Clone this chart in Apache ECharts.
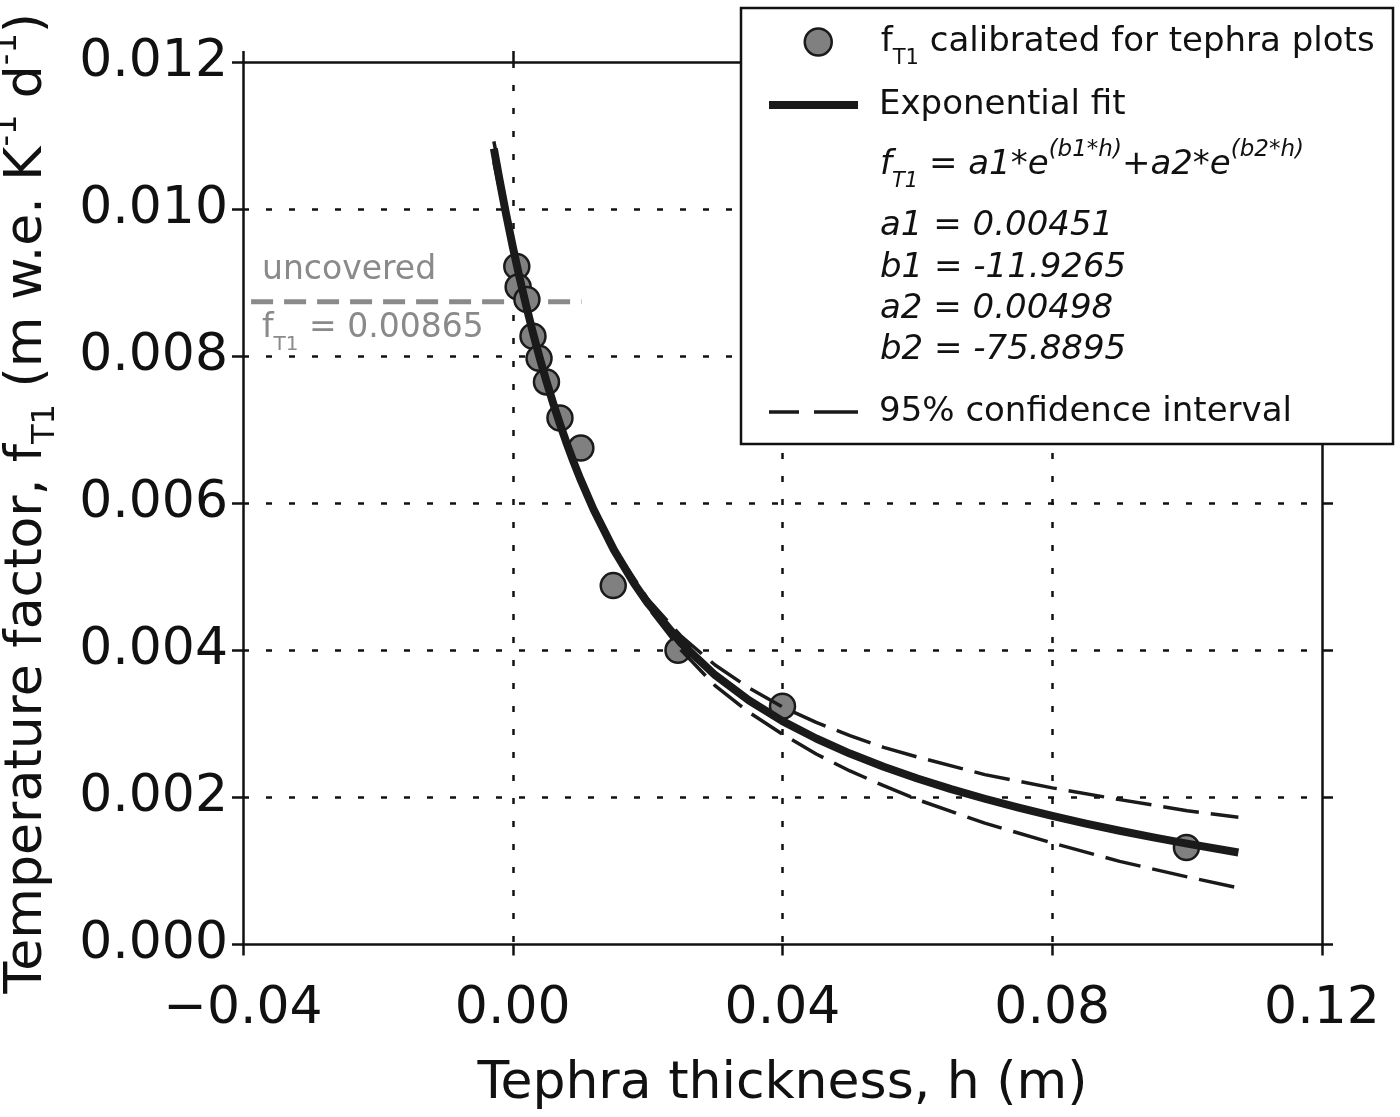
<!DOCTYPE html>
<html>
<head>
<meta charset="utf-8">
<script src="https://cdn.jsdelivr.net/npm/echarts@6/dist/echarts.min.js"></script>
<style>
html,body{margin:0;padding:0;background:#fff;}
#chart{width:1400px;height:1117px;}
</style>
</head>
<body>
<div id="chart"></div>
<script>
// ---- data ----
const pointsH = [0.0006, 0.0008, 0.0021, 0.0030, 0.0039, 0.0050, 0.0070, 0.0101, 0.0149, 0.0245, 0.0400, 0.0999];
const pointsF = [0.00922, 0.00894, 0.00877, 0.00827, 0.00797, 0.00765, 0.00716, 0.00675, 0.00488, 0.00400, 0.00324, 0.00132];

const fitH = [-0.0028, -0.002, -0.001, 0, 0.001, 0.002, 0.003, 0.004, 0.005, 0.006, 0.007, 0.008, 0.009, 0.010, 0.012, 0.015, 0.018, 0.020, 0.025, 0.030, 0.035, 0.040, 0.045, 0.050, 0.055, 0.060, 0.065, 0.070, 0.075, 0.080, 0.085, 0.090, 0.095, 0.100, 0.1076];
const fitF = [0.010822, 0.010415, 0.009937, 0.00949, 0.009073, 0.008683, 0.008317, 0.007976, 0.007656, 0.007357, 0.007077, 0.006814, 0.006566, 0.006335, 0.005912, 0.005366, 0.004909, 0.004645, 0.004094, 0.003664, 0.003321, 0.003038, 0.002801, 0.002596, 0.002417, 0.002257, 0.002113, 0.001982, 0.001861, 0.001749, 0.001644, 0.001547, 0.001456, 0.001371, 0.001251];

const ciH     = [-0.0028, 0, 0.001, 0.002, 0.005, 0.0075, 0.010, 0.015, 0.020, 0.025, 0.030, 0.035, 0.040, 0.045, 0.050, 0.055, 0.060, 0.070, 0.080, 0.090, 0.100, 0.1076];
const ciUpper = [0.01092, 0.00957, 0.00913, 0.00874, 0.00769, 0.00697, 0.00636, 0.00539, 0.00470, 0.00419, 0.00380, 0.00349, 0.00323, 0.00302, 0.00284, 0.00268, 0.00255, 0.00231, 0.00213, 0.00197, 0.00182, 0.00173];
const ciLower = [0.01064, 0.00941, 0.00901, 0.00863, 0.00762, 0.00692, 0.00631, 0.00534, 0.00459, 0.00400, 0.00352, 0.00316, 0.00286, 0.00259, 0.00236, 0.00216, 0.00197, 0.00165, 0.00138, 0.00113, 0.00092, 0.00077];

const uncoveredH = [-0.0388, 0.0102];
const uncoveredF = [0.00874, 0.00874];

const xTickValues = [-0.04, 0.00, 0.04, 0.08, 0.12];
const xTickLabels = ['\u22120.04', '0.00', '0.04', '0.08', '0.12'];
const yTickValues = [0.000, 0.002, 0.004, 0.006, 0.008, 0.010, 0.012];
const yTickLabels = ['0.000', '0.002', '0.004', '0.006', '0.008', '0.010', '0.012'];

const paramLines = ['a1 = 0.00451', 'b1 = -11.9265', 'a2 = 0.00498', 'b2 = -75.8895'];

const S_POINTS = 'f_T1 calibrated for tephra plots';
const S_FIT = 'Exponential fit';
const S_CI = '95% confidence interval';

// ---- helpers ----
const zip = (a, b) => a.map((v, i) => [v, b[i]]);
const pickLabel = (vals, labels) => v => {
  const i = vals.findIndex(t => Math.abs(t - v) < 1e-9);
  return i >= 0 ? labels[i] : '';
};

const FONT = 'DejaVu Sans';
const INK = '#111111';
const LINE = '#1a1a1a';
const GREY = '#8a8a8a';

const chart = echarts.init(document.getElementById('chart'), null, {renderer: 'canvas'});

const spine = {show: true, onZero: false, lineStyle: {color: INK, width: 2.5}};
const ticks = {show: true, inside: false, length: 11, lineStyle: {color: INK, width: 2.5}};
const dotted = {show: true, showMinLine: false, showMaxLine: false,
  lineStyle: {color: INK, width: 2.5, type: [6, 17]}};

const option = {
  animation: false,
  backgroundColor: '#ffffff',
  textStyle: {fontFamily: FONT},
  grid: {left: 243, right: 78, top: 62, bottom: 172.5, containLabel: false, outerBoundsMode: 'none'},
  xAxis: [{
    type: 'value', position: 'bottom', min: -0.04, max: 0.12, interval: 0.04,
    axisLine: spine, axisTick: ticks, splitLine: dotted,
    axisLabel: {fontSize: 52, lineHeight: 52, color: INK, fontFamily: FONT, margin: 39,
      formatter: pickLabel(xTickValues, xTickLabels)},
    name: 'Tephra thickness, h (m)', nameLocation: 'middle', nameGap: 109.5, nameMoveOverlap: false,
    nameTextStyle: {fontSize: 52, lineHeight: 60, color: INK, fontFamily: FONT}
  }, {
    type: 'value', position: 'top', min: -0.04, max: 0.12, interval: 0.04,
    axisLine: spine, axisTick: ticks, splitLine: {show: false}, axisLabel: {show: false}
  }],
  yAxis: [{
    type: 'value', position: 'left', min: 0, max: 0.012, interval: 0.002,
    axisLine: spine, axisTick: ticks, splitLine: dotted,
    axisLabel: {fontSize: 52, color: INK, fontFamily: FONT, margin: 15,
      formatter: pickLabel(yTickValues, yTickLabels)},
    name: '{m|Temperature factor, f}{s|T1}{m| (m w.e. K}{p|-1}{m| d}{p|-1}{m|)}',
    nameLocation: 'middle', nameGap: 181, nameMoveOverlap: false,
    nameTextStyle: {color: INK, fontFamily: FONT, fontSize: 52, rich: {
      m: {fontSize: 52, lineHeight: 70, verticalAlign: 'middle', color: INK, fontFamily: FONT},
      s: {fontSize: 32, lineHeight: 34, verticalAlign: 'bottom', color: INK, fontFamily: FONT},
      p: {fontSize: 32, lineHeight: 48, verticalAlign: 'top', color: INK, fontFamily: FONT}
    }}
  }, {
    type: 'value', position: 'right', min: 0, max: 0.012, interval: 0.002,
    axisLine: spine, axisTick: ticks, splitLine: {show: false}, axisLabel: {show: false}
  }],
  legend: [{
    z: 6, padding: 0, left: 803.5, top: 15, itemWidth: 27, itemHeight: 27, orient: 'vertical',
    data: [{name: S_POINTS, icon: 'circle'}],
    itemStyle: {color: '#808080', borderColor: LINE, borderWidth: 2.5},
    formatter: () => '{m|f}{s|T1}{m| calibrated for tephra plots}',
    textStyle: {color: INK, fontFamily: FONT, fontSize: 34, lineHeight: 54, padding: [0, 0, 0, 44], rich: {
      m: {fontSize: 34, lineHeight: 54, verticalAlign: 'middle', color: INK, fontFamily: FONT},
      s: {fontSize: 21, lineHeight: 21, verticalAlign: 'bottom', color: INK, fontFamily: FONT}
    }}
  }, {
    z: 6, padding: 0, left: 769, top: 78, itemWidth: 89, itemHeight: 8, orient: 'vertical',
    data: [{name: S_FIT, icon: 'rect'}],
    itemStyle: {color: LINE, borderWidth: 0},
    textStyle: {color: INK, fontFamily: FONT, fontSize: 34, lineHeight: 54, padding: [0, 0, 0, 16]}
  }, {
    z: 6, padding: 0, left: 769, top: 385, itemWidth: 89, itemHeight: 3.5, orient: 'vertical',
    data: [{name: S_CI, icon: 'path://M0,0H30V3.5H0Z M45,0H89V3.5H45Z'}],
    itemStyle: {color: LINE, borderWidth: 0},
    textStyle: {color: INK, fontFamily: FONT, fontSize: 34, lineHeight: 54, padding: [0, 0, 0, 16]}
  }],
  graphic: [{
    type: 'rect', z: 5, shape: {x: 741, y: 8, width: 652, height: 436},
    style: {fill: '#ffffff', stroke: INK, lineWidth: 2.5}
  }, {
    type: 'text', z: 7, x: 880, y: 138.2,
    style: {
      text: '{m|f}{s|T1}{m| = a1*e}{p|(b1*h)}{m|+a2*e}{p|(b2*h)}',
      align: 'left', verticalAlign: 'top', fill: INK, font: 'italic 34px "DejaVu Sans"',
      rich: {
        m: {fontSize: 34, fontStyle: 'italic', fontFamily: FONT, lineHeight: 54, verticalAlign: 'middle', fill: INK},
        s: {fontSize: 21, fontStyle: 'italic', fontFamily: FONT, lineHeight: 23, verticalAlign: 'bottom', fill: INK},
        p: {fontSize: 23, fontStyle: 'italic', fontFamily: FONT, lineHeight: 38, verticalAlign: 'top', fill: INK}
      }
    }
  }, {
    type: 'text', z: 7, x: 880, y: 205.9,
    style: {
      text: paramLines.join('\n'), align: 'left', verticalAlign: 'top', fill: INK,
      fontSize: 34, fontStyle: 'italic', fontFamily: FONT, lineHeight: 41.2
    }
  }, {
    type: 'text', z: 7, x: 262, y: 270.6,
    style: {text: 'uncovered', align: 'left', verticalAlign: 'middle', fill: GREY,
      fontSize: 33, fontFamily: FONT}
  }, {
    type: 'text', z: 7, x: 262, y: 302.6,
    style: {
      text: '{m|f}{s|T1}{m| = 0.00865}', align: 'left', verticalAlign: 'top', fill: GREY,
      fontSize: 33, fontFamily: FONT,
      rich: {
        m: {fontSize: 33, fontFamily: FONT, lineHeight: 52, verticalAlign: 'middle', fill: GREY},
        s: {fontSize: 20, fontFamily: FONT, lineHeight: 23, verticalAlign: 'bottom', fill: GREY}
      }
    }
  }],
  series: [{
    name: 'uncovered', type: 'line', data: zip(uncoveredH, uncoveredF),
    symbol: 'none', silent: true, z: 1,
    color: GREY, lineStyle: {color: GREY, width: 5, type: [22, 11]}
  }, {
    name: S_POINTS, type: 'scatter', data: zip(pointsH, pointsF),
    symbol: 'circle', symbolSize: 25, z: 2,
    itemStyle: {color: '#808080', borderColor: LINE, borderWidth: 2.5, opacity: 1}
  }, {
    name: S_CI, type: 'line', data: zip(ciH, ciUpper), symbol: 'none', z: 3,
    color: LINE, lineStyle: {color: LINE, width: 3.5, type: [36, 12]}
  }, {
    name: S_CI, type: 'line', data: zip(ciH, ciLower), symbol: 'none', z: 3,
    color: LINE, lineStyle: {color: LINE, width: 3.5, type: [36, 12]}
  }, {
    name: S_FIT, type: 'line', data: zip(fitH, fitF), symbol: 'none', z: 4,
    color: LINE, lineStyle: {color: LINE, width: 8, join: 'round'}
  }]
};

chart.setOption(option);
</script>
</body>
</html>
